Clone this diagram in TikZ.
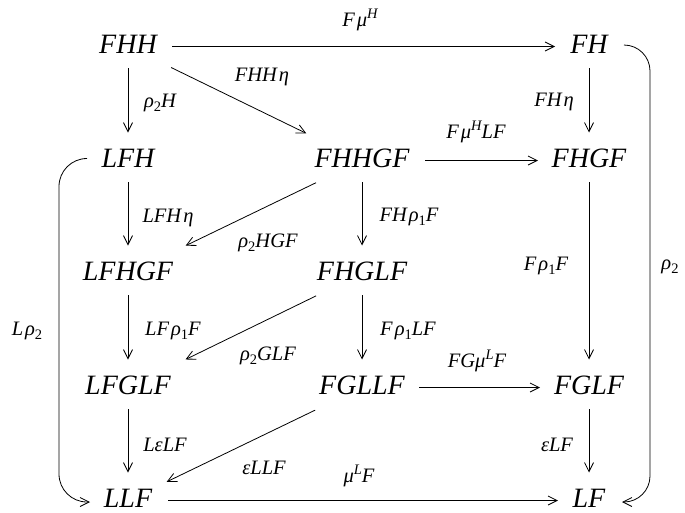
\documentclass[tikz,border=0pt]{standalone}
\usepackage{fontspec}
\setmainfont{Liberation Serif}
\usetikzlibrary{arrows.meta,calc}

% small upright subscript, small italic superscript, thin gap before a Greek letter
\newcommand\sbs[1]{\raisebox{-4pt}{\fontsize{14.5}{14.5}\selectfont\upshape #1}}
\newcommand\sps[1]{\raisebox{8pt}{\fontsize{14.5}{14.5}\selectfont\itshape #1}}
\newcommand\gk{\kern2pt}

\begin{document}
\begin{tikzpicture}[x=1pt,y=-1pt,
  obj/.style={anchor=base, inner sep=0pt, text height=17pt, text depth=4pt,
              font=\fontsize{28}{32}\selectfont\itshape},
  lbl/.style={anchor=base, inner sep=0pt, font=\fontsize{20.5}{22}\selectfont\itshape},
  arr/.style={draw, line width=0.8pt, -{Straight Barb[length=9pt,width=9pt]}},
  vert/.style={arr, shorten <=21.5pt, shorten >=28pt},
]
\useasboundingbox (0,0) rectangle (685,512);

% objects
\node[obj] (FHH)   at (128,53)  {FHH};
\node[obj] (FH)    at (589,53)  {FH};
\node[obj] (LFH)   at (128,167) {LFH};
\node[obj] (FHHGF) at (362,167) {FHHGF};
\node[obj] (FHGF)  at (589,167) {FHGF};
\node[obj] (LFHGF) at (128,280) {LFHGF};
\node[obj] (FHGLF) at (362,280) {FHGLF};
\node[obj] (LFGLF) at (128,394) {LFGLF};
\node[obj] (FGLLF) at (362,394) {FGLLF};
\node[obj] (FGLF)  at (589,394) {FGLF};
\node[obj] (LLF)   at (128,507) {LLF};
\node[obj] (LF)    at (589,507) {LF};

% vertical arrows
\draw[vert] (FHH.center)   -- (LFH.center);
\draw[vert] (LFH.center)   -- (LFHGF.center);
\draw[vert] (LFHGF.center) -- (LFGLF.center);
\draw[vert] (LFGLF.center) -- (LLF.center);
\draw[vert] (FHHGF.center) -- (FHGLF.center);
\draw[vert] (FHGLF.center) -- (FGLLF.center);
\draw[vert] (FH.center)    -- (FHGF.center);
\draw[vert] (FHGF.center)  -- (FGLF.center);
\draw[vert] (FGLF.center)  -- (LF.center);

% horizontal arrows
\draw[arr, shorten <=44pt, shorten >=34pt] (FHH.center)   -- (FH.center);
\draw[arr, shorten <=63pt, shorten >=51pt] (FHHGF.center) -- (FHGF.center);
\draw[arr, shorten <=57pt, shorten >=49pt] (FGLLF.center) -- (FGLF.center);
\draw[arr, shorten <=40pt, shorten >=31pt] (LLF.center)   -- (LF.center);

% diagonal arrows
\draw[arr, shorten <=48pt, shorten >=62pt] (FHH.center)   -- (FHHGF.center);
\draw[arr, shorten <=51pt, shorten >=64pt] (FHHGF.center) -- (LFHGF.center);
\draw[arr, shorten <=51pt, shorten >=64pt] (FHGLF.center) -- (LFGLF.center);
\draw[arr, shorten <=52pt, shorten >=43pt] (FGLLF.center) -- (LLF.center);

% outer rails
\coordinate (lrail) at (59,330);
\coordinate (rrail) at (650,270);
\draw[arr, rounded corners=28pt] ($(LFH.center)+(-41,-2)$) -| (lrail) |- ($(LLF.center)+(-38,1.5)$);
\draw[arr, rounded corners=26pt] ($(FH.center)+(36,-1.5)$) -| (rrail) |- ($(LF.center)+(33,1.5)$);

% labels
\node[lbl] (lFmuH)    at (360,26)  {F\gk μ\sps{H}};
\node[lbl] (lFHHeta)  at (262,81)  {FHH\gk η};
\node[lbl] (lrhoH)    at (160,107) {ρ\sbs{2}H};
\node[lbl] (lFHeta)   at (554,106) {FH\gk η};
\node[lbl] (lFmuHLF)  at (476,138) {F\gk μ\sps{H}LF};
\node[lbl] (lLFHeta)  at (168,222) {LFH\gk η};
\node[lbl] (lrhoHGF)  at (268,247) {ρ\sbs{2}HGF};
\node[lbl] (lFHrhoF)  at (409,221) {FH\gk ρ\sbs{1}F};
\node[lbl] (lFrhoF)   at (546,270) {F\gk ρ\sbs{1}F};
\node[lbl] (lrho)     at (670,269) {ρ\sbs{2}};
\node[lbl] (lLFrhoF)  at (173,335) {LF\gk ρ\sbs{1}F};
\node[lbl] (lLrho)    at (27,335)  {L\gk ρ\sbs{2}};
\node[lbl] (lrhoGLF)  at (268,360) {ρ\sbs{2}GLF};
\node[lbl] (lFrhoLF)  at (408,335) {F\gk ρ\sbs{1}LF};
\node[lbl] (lFGmuLF)  at (477,367) {FGμ\sps{L}F};
\node[lbl] (lLepsLF)  at (165,451) {LεLF};
\node[lbl] (lepsLLF)  at (264,474) {εLLF};
\node[lbl] (lepsLF)   at (557,451) {εLF};
\node[lbl] (lmuLF)    at (359,482) {μ\sps{L}F};
\end{tikzpicture}
\end{document}
